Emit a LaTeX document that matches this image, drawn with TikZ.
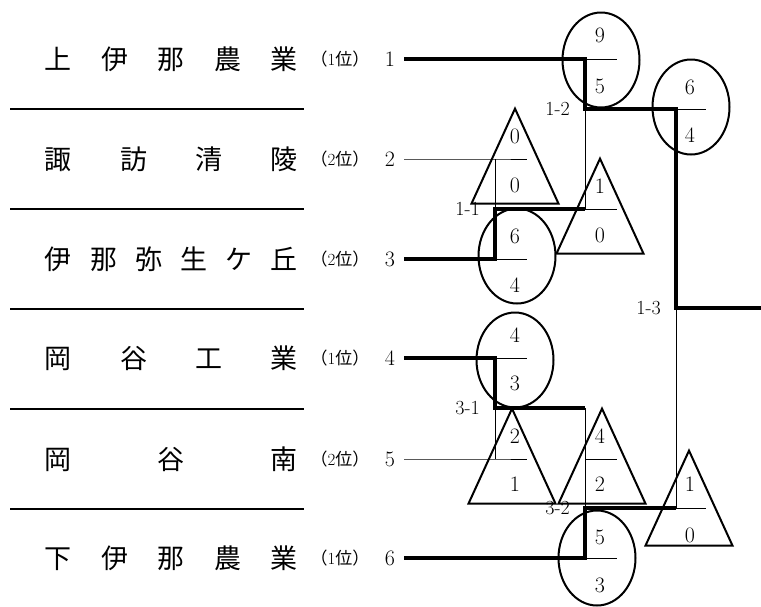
\documentclass[tikz,border=0pt]{standalone}
\usepackage{fontspec}
\newfontfamily\jp{Noto Sans CJK JP}
\usetikzlibrary{shapes,positioning,calc}

\begin{document}
\begin{tikzpicture}[x=1pt,y=-1pt,
  team/.style={font=\jp\fontsize{27}{30}\selectfont,inner sep=0pt},
  rank/.style={font=\fontsize{17}{20}\selectfont,inner sep=0pt},
  num/.style={font=\fontsize{22}{26}\selectfont,inner sep=1pt,outer sep=8pt},
  score/.style={font=\fontsize{22}{26}\selectfont,inner sep=1pt},
  match/.style={font=\fontsize{20}{24}\selectfont,inner sep=1pt},
  win/.style={ellipse,draw,line width=2pt,minimum width=77pt,minimum height=95pt},
  lose/.style={isosceles triangle,draw,line width=2pt,shape border rotate=90,
    isosceles triangle stretches,minimum width=87pt,minimum height=95pt,
    inner sep=0pt,anchor=apex,yshift=53pt},
  won/.style={line width=3.2pt},
  lost/.style={line width=1pt}]

  \useasboundingbox (0,0) rectangle (761,606);

  % teams
  \node[team] (n1) at (171.5,59) {\makebox[253pt][s]{上\hfill 伊\hfill 那\hfill 農\hfill 業}};
  \node[team] (n2) at (171.5,159) {\makebox[253pt][s]{諏\hfill 訪\hfill 清\hfill 陵}};
  \node[team] (n3) at (171.5,259) {\makebox[253pt][s]{伊\hfill 那\hfill 弥\hfill 生\hfill ケ\hfill 丘}};
  \node[team] (n4) at (171.5,358) {\makebox[253pt][s]{岡\hfill 谷\hfill 工\hfill 業}};
  \node[team] (n5) at (171.5,459) {\makebox[253pt][s]{岡\hfill 谷\hfill 南}};
  \node[team] (n6) at (171.5,558) {\makebox[253pt][s]{下\hfill 伊\hfill 那\hfill 農\hfill 業}};

  \foreach \y in {109,209,309,409,509}
    \draw[line width=2.2pt] (10,\y) -- (304,\y);

  \node[rank] (r1) at (340,59) {{\jp （}1{\jp 位）}};
  \node[rank] (r2) at (340,159) {{\jp （}2{\jp 位）}};
  \node[rank] (r3) at (340,259) {{\jp （}2{\jp 位）}};
  \node[rank] (r4) at (340,358) {{\jp （}1{\jp 位）}};
  \node[rank] (r5) at (340,459) {{\jp （}2{\jp 位）}};
  \node[rank] (r6) at (340,558) {{\jp （}1{\jp 位）}};

  \node[num] (t1) at (390,59) {1};
  \node[num] (t2) at (390,159) {2};
  \node[num] (t3) at (390,259) {3};
  \node[num] (t4) at (390,358) {4};
  \node[num] (t5) at (390,459) {5};
  \node[num] (t6) at (390,558) {6};

  % junctions
  \coordinate (j11) at (495,209);
  \coordinate (j12) at (585,109);
  \coordinate (j31) at (495,408);
  \coordinate (j32) at (585,508);
  \coordinate (j13) at (676,308);
  \coordinate (champ) at (761,308);

  % upper block
  \draw[won] (t1.east) -- (j12|-t1) -- (j12) -- (j13|-j12) -- (j13) -- (champ);
  \draw[lost] (j12|-t1) -- ++(32,0);
  \draw[lost] (t2.east) -- (j11|-t2) -- ++(32,0);
  \draw[lost] (j11|-t2) -- (j11);
  \draw[won] (t3.east) -- (j11|-t3) -- (j11) -- (j12|-j11);
  \draw[lost] (j11|-t3) -- ++(32,0);
  \draw[lost] (j12|-j11) -- ++(32,0);
  \draw[lost] (j12|-j11) -- (j12);
  \draw[lost] (j13|-j12) -- ++(30,0);

  % lower block
  \draw[won] (t4.east) -- (j31|-t4) -- (j31) -- (j32|-j31);
  \draw[lost] (j31|-t4) -- ++(32,0);
  \draw[lost] (t5.east) -- (j31|-t5) -- ++(32,0);
  \draw[lost] (j31|-t5) -- (j31);
  \draw[lost] (j32|-j31) -- (j32);
  \draw[lost] (j32|-t5) -- ++(32,0);
  \draw[won] (t6.east) -- (j32|-t6) -- (j32) -- (j13|-j32);
  \draw[lost] (j32|-t6) -- ++(32,0);
  \draw[lost] (j13|-j32) -- (j13);
  \draw[lost] (j13|-j32) -- ++(30,0);

  % match labels
  \node[match, left=14pt of j11] (l11) {1-1};
  \node[match, left=14pt of j12] (l12) {1-2};
  \node[match, left=14pt of j31] (l31) {3-1};
  \node[match, left=14pt of j32] (l32) {3-2};
  \node[match, left=14pt of j13] (l13) {1-3};

  % scores
  \node[lose] (s2) at (515,159) {};
  \node[score] at (515,136) {0};
  \node[score] at (515,185) {0};
  \node[win] (s3) at (517,256) {};
  \node[score] at (515,236) {6};
  \node[score] at (515,285) {4};
  \node[win] (s1) at (601,60) {};
  \node[score] at (600,35) {9};
  \node[score] at (600,86) {5};
  \node[lose] (s11) at (600,209) {};
  \node[score] at (600,186) {1};
  \node[score] at (600,235) {0};
  \node[win] (s12) at (691,107) {};
  \node[score] at (690,87) {6};
  \node[score] at (690,135) {4};
  \node[win] (s4) at (515,360) {};
  \node[score] at (515,335) {4};
  \node[score] at (515,383) {3};
  \node[lose] (s5) at (512,459) {};
  \node[score] at (515,436) {2};
  \node[score] at (515,484) {1};
  \node[lose] (s31) at (602,459) {};
  \node[score] at (600,436) {4};
  \node[score] at (600,484) {2};
  \node[win] (s6) at (597,558) {};
  \node[score] at (600,537) {5};
  \node[score] at (600,585) {3};
  \node[lose] (s32) at (689,501) {};
  \node[score] at (690,484) {1};
  \node[score] at (690,535) {0};
\end{tikzpicture}
\end{document}
